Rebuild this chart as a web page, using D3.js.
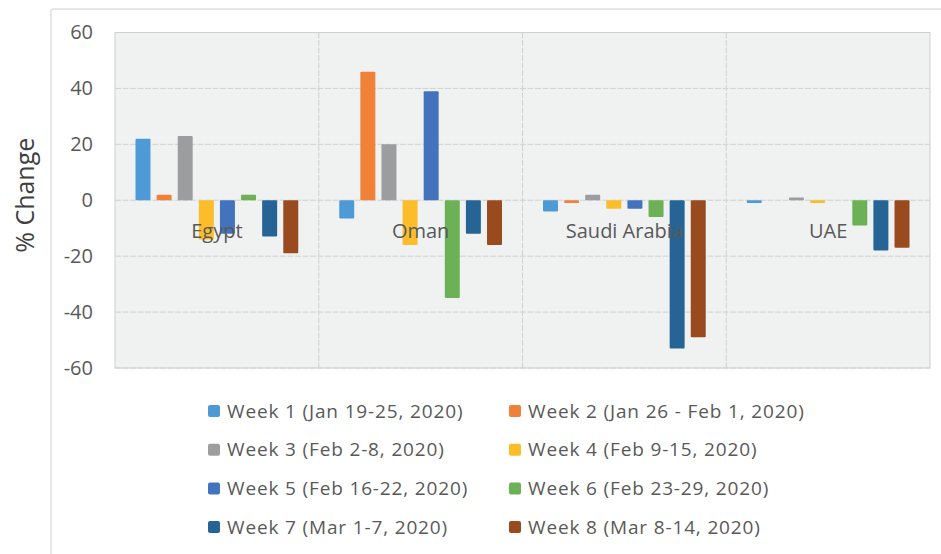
<!DOCTYPE html>
<html>
<head>
<meta charset="utf-8">
<script src="https://cdn.jsdelivr.net/npm/d3@7"></script>
<style>
    body { margin: 0; background: #fff; }
    svg { display: block; font-family: "Open Sans", "Noto Sans", sans-serif; }
</style>
</head>
<body>
<div id="chart"></div>
<script>
    // data
    var countries = ["Egypt", "Oman", "Saudi Arabia", "UAE"];
    var weeks = [
        "Week 1 (Jan 19-25, 2020)",
        "Week 2 (Jan 26 - Feb 1, 2020)",
        "Week 3 (Feb 2-8, 2020)",
        "Week 4 (Feb 9-15, 2020)",
        "Week 5 (Feb 16-22, 2020)",
        "Week 6 (Feb 23-29, 2020)",
        "Week 7 (Mar 1-7, 2020)",
        "Week 8 (Mar 8-14, 2020)"
    ];
    var egypt = [22, 2, 23, -14, -12, 2, -13, -19];
    var oman = [-6.5, 46, 20, -16, 39, -35, -12, -16];
    var saudi = [-4, -1, 2, -3, -3, -6, -53, -49];
    var uae = [-1, 0, 1, -1, 0, -9, -18, -17];
    var yTicks = [-60, -40, -20, 0, 20, 40, 60];

    var weekColors = ["#4e9ad6", "#f08138", "#9c9d9e", "#fbbd2a",
                      "#4373bd", "#6cb155", "#266495", "#994b1f"];

    var rows = [egypt, oman, saudi, uae];

    var width = 941, height = 554;
    var plot = {left: 115, right: 930, top: 32.5, bottom: 368};
    var textColor = "#595959";
    var gridColor = "#cfd0d0";

    var svg = d3.select("#chart").append("svg")
        .attr("width", width)
        .attr("height", height);

    // outer chart frame (runs off the right/bottom edge)
    svg.append("rect")
        .attr("x", 51).attr("y", 9)
        .attr("width", 940).attr("height", 600)
        .attr("rx", 3)
        .style("fill", "#fff")
        .style("stroke", "#e0e0e0")
        .style("stroke-width", 1.5);

    var x0 = d3.scaleBand()
        .domain(countries)
        .range([plot.left, plot.right])
        .paddingInner(0).paddingOuter(0);

    var x1 = d3.scaleBand()
        .domain(d3.range(weeks.length))
        .range([20.5, x0.bandwidth() - 20.5])
        .paddingInner(0.29).paddingOuter(0);

    var y = d3.scaleLinear()
        .domain([-60, 60])
        .range([plot.bottom, plot.top]);

    // plot background
    svg.append("rect")
        .attr("x", plot.left).attr("y", plot.top)
        .attr("width", plot.right - plot.left)
        .attr("height", plot.bottom - plot.top)
        .style("fill", "#f0f1f1")
        .style("stroke", gridColor)
        .style("stroke-width", 1);

    var grid = svg.append("g").attr("class", "grid");

    grid.selectAll("line.h")
        .data(yTicks)
        .enter().append("line")
        .attr("class", "h")
        .attr("x1", plot.left).attr("x2", plot.right)
        .attr("y1", function(d) { return y(d); })
        .attr("y2", function(d) { return y(d); })
        .style("stroke", gridColor)
        .style("stroke-width", 1)
        .style("stroke-dasharray", "6,1.5");

    grid.selectAll("line.v")
        .data(countries.slice(1))
        .enter().append("line")
        .attr("class", "v")
        .attr("x1", function(d) { return x0(d); })
        .attr("x2", function(d) { return x0(d); })
        .attr("y1", plot.top).attr("y2", plot.bottom)
        .style("stroke", gridColor)
        .style("stroke-width", 1)
        .style("stroke-dasharray", "6,1.5");

    // y axis labels (plain hyphen for negatives, like the original)
    var yAxis = d3.axisLeft(y)
        .tickValues(yTicks)
        .tickFormat(function(d) { return String(d); })
        .tickSize(0).tickPadding(22);
    var yg = svg.append("g")
        .attr("transform", "translate(" + plot.left + ",0)")
        .call(yAxis);
    yg.select(".domain").remove();
    yg.selectAll("text")
        .style("font-family", "'Open Sans', 'Noto Sans', sans-serif")
        .style("font-size", "20px")
        .style("fill", textColor);

    svg.append("text")
        .attr("transform", "translate(34," + (y(0) - 5) + ")rotate(-90)")
        .attr("text-anchor", "middle")
        .style("font-size", "25px")
        .style("fill", "#404040")
        .text("% Change");

    // bars
    var groups = svg.append("g").attr("class", "bars")
        .selectAll("g")
        .data(rows)
        .enter().append("g")
        .attr("transform", function(d, i) {
            return "translate(" + x0(countries[i]) + ",0)";
        });

    groups.selectAll("rect")
        .data(function(d) { return d; })
        .enter().append("rect")
        .attr("x", function(d, i) { return x1(i); })
        .attr("width", x1.bandwidth())
        .attr("y", function(d) { return y(Math.max(0, d)); })
        .attr("height", function(d) {
            var h = Math.abs(y(d) - y(0));
            return d === 0 ? 0 : Math.max(h, 1.5);
        })
        .attr("rx", 1)
        .style("fill", function(d, i) { return weekColors[i]; });

    // category labels sit inside the plot, just under zero
    svg.append("g").selectAll("text")
        .data(countries)
        .enter().append("text")
        .attr("x", function(d) { return x0(d) + x0.bandwidth() / 2; })
        .attr("y", y(0) + 38)
        .attr("text-anchor", "middle")
        .style("font-size", "20px")
        .style("fill", textColor)
        .text(function(d) { return d; });

    // legend, two columns
    var legend = svg.append("g").attr("class", "legend")
        .selectAll("g")
        .data(weeks)
        .enter().append("g")
        .attr("transform", function(d, i) {
            var col = i % 2, row = Math.floor(i / 2);
            return "translate(" + (col === 0 ? 208 : 509) + "," + (411 + row * 38.7) + ")";
        });

    legend.append("rect")
        .attr("x", 0).attr("y", -6)
        .attr("width", 12).attr("height", 12)
        .attr("rx", 2)
        .style("fill", function(d, i) { return weekColors[i]; });

    legend.append("text")
        .attr("x", 19)
        .attr("dy", "0.35em")
        .style("font-size", "19px")
        .style("letter-spacing", "0.85px")
        .style("fill", textColor)
        .text(function(d) { return d; });
</script>
</body>
</html>
